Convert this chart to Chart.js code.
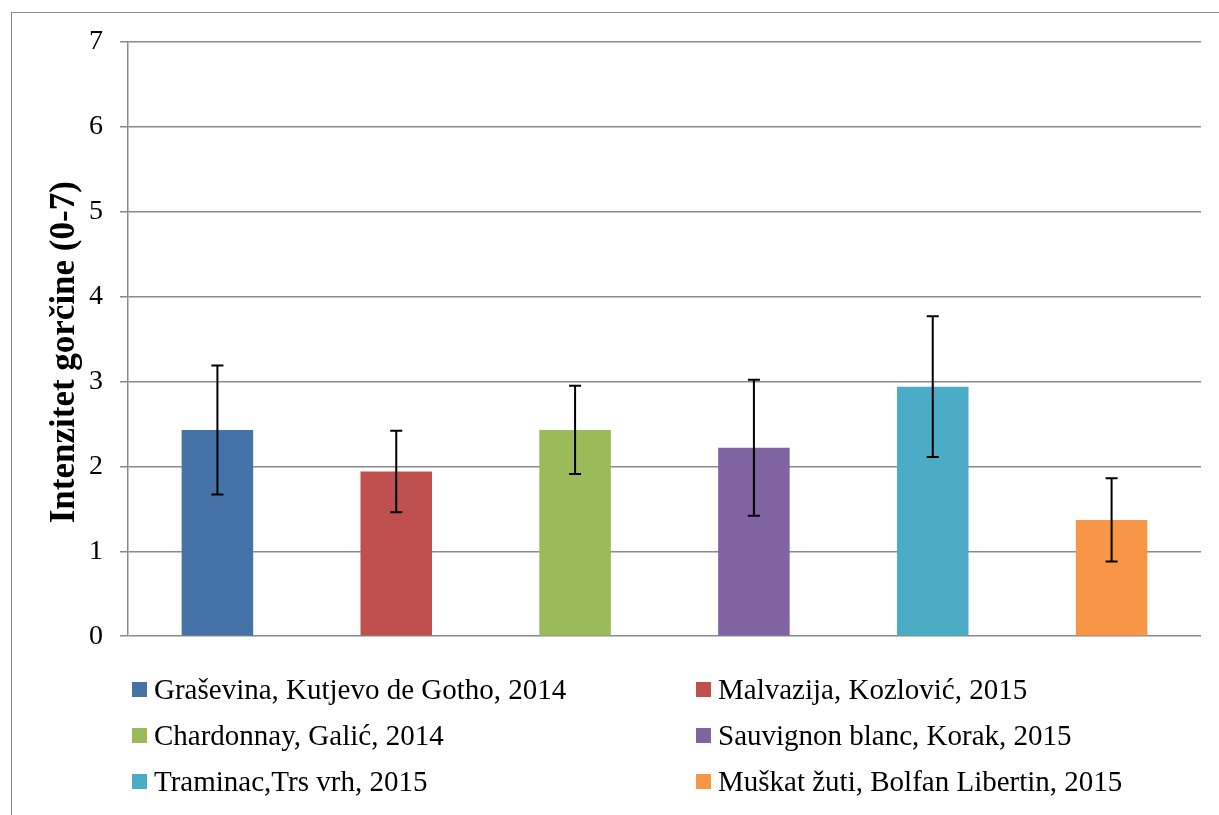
<!DOCTYPE html>
<html>
<head>
<meta charset="utf-8">
<script src="https://cdn.jsdelivr.net/npm/chart.js@4.4.0/dist/chart.umd.min.js"></script>
<style>
  html, body { margin: 0; padding: 0; background: #fff; }
  body { width: 1219px; height: 815px; position: relative; overflow: hidden;
         font-family: 'Liberation Serif', 'DejaVu Serif', serif; }
  .frame { position: absolute; left: 11px; top: 12px; width: 1300px; height: 900px;
           border-top: 1px solid #8a8a8a; border-left: 1px solid #8a8a8a; }
  .wrap { position: absolute; left: 0; top: 0; width: 1219px; height: 670px; }
  #legend { position: absolute; left: 132px; top: 666px; width: 1080px;
            display: grid; grid-template-columns: 564px 500px; row-gap: 0; }
  #legend .item { display: flex; align-items: center; height: 46px; font-size: 29px; color: #000;
                  white-space: nowrap; }
  #legend .box { width: 15px; height: 15px; margin-right: 7px; flex: none; }
</style>
</head>
<body>
<div class="frame"></div>
<div class="wrap"><canvas id="bitterChart"></canvas></div>
<div id="legend"></div>
<script>
const categories = [
  'Graševina, Kutjevo de Gotho, 2014',
  'Malvazija, Kozlović, 2015',
  'Chardonnay, Galić, 2014',
  'Sauvignon blanc, Korak, 2015',
  'Traminac,Trs vrh, 2015',
  'Muškat žuti, Bolfan Libertin, 2015'
];
const means = [2.43, 1.94, 2.43, 2.22, 2.94, 1.37];
const errors = [0.76, 0.48, 0.52, 0.80, 0.83, 0.49];
const colors = ['#4572A7', '#C0504D', '#9BBB59', '#8064A2', '#4BACC6', '#F79646'];
const yTicks = [0, 1, 2, 3, 4, 5, 6, 7];

const serif = "'Liberation Serif', 'DejaVu Serif', serif";

// error bars drawn on top of the bars
const errorBars = {
  id: 'errorBars',
  afterDatasetsDraw(chart) {
    const ctx = chart.ctx;
    const y = chart.scales.y;
    const meta = chart.getDatasetMeta(0);
    ctx.save();
    ctx.strokeStyle = '#000';
    ctx.lineWidth = 2;
    meta.data.forEach((bar, i) => {
      const x = bar.x;
      const top = y.getPixelForValue(means[i] + errors[i]);
      const bot = y.getPixelForValue(means[i] - errors[i]);
      ctx.beginPath();
      ctx.moveTo(x, top); ctx.lineTo(x, bot);
      ctx.moveTo(x - 6, top); ctx.lineTo(x + 6, top);
      ctx.moveTo(x - 6, bot); ctx.lineTo(x + 6, bot);
      ctx.stroke();
    });
    ctx.restore();
  }
};

const ctx = document.getElementById('bitterChart').getContext('2d');

new Chart(ctx, {
  type: 'bar',
  data: {
    labels: categories,
    datasets: [{
      data: means,
      backgroundColor: colors,
      borderWidth: 0,
      barPercentage: 0.4,
      categoryPercentage: 1
    }]
  },
  options: {
    responsive: true,
    maintainAspectRatio: false,
    animation: false,
    layout: {
      padding: { left: 11, top: 42, right: 18, bottom: 15 }
    },
    scales: {
      x: { display: false },
      y: {
        min: 0,
        max: 7,
        afterBuildTicks: (s) => { s.ticks = yTicks.map(v => ({ value: v })); },
        afterFit: (s) => { s.width = 117; },
        grid: { color: '#8a8a8a', lineWidth: 1.5, tickLength: 8 },
        border: { color: '#8a8a8a', width: 1.5 },
        ticks: {
          padding: 17,
          color: '#000',
          font: { family: serif, size: 28 }
        },
        title: {
          display: true,
          // trailing spaces push the title a little lower, as in the original
          text: 'Intenzitet gorčine (0-7)\u00a0\u00a0\u00a0',
          color: '#000',
          font: { family: serif, size: 35, weight: 'bold' },
          padding: { top: 33, bottom: 0 }
        }
      }
    },
    plugins: {
      legend: { display: false },
      tooltip: { enabled: false }
    }
  },
  plugins: [errorBars]
});

// legend in two columns, same order as the reference
const legend = document.getElementById('legend');
categories.forEach((name, i) => {
  const item = document.createElement('div');
  item.className = 'item';
  item.innerHTML = `<span class="box" style="background:${colors[i]}"></span><span>${name}</span>`;
  legend.appendChild(item);
});
</script>
</body>
</html>
